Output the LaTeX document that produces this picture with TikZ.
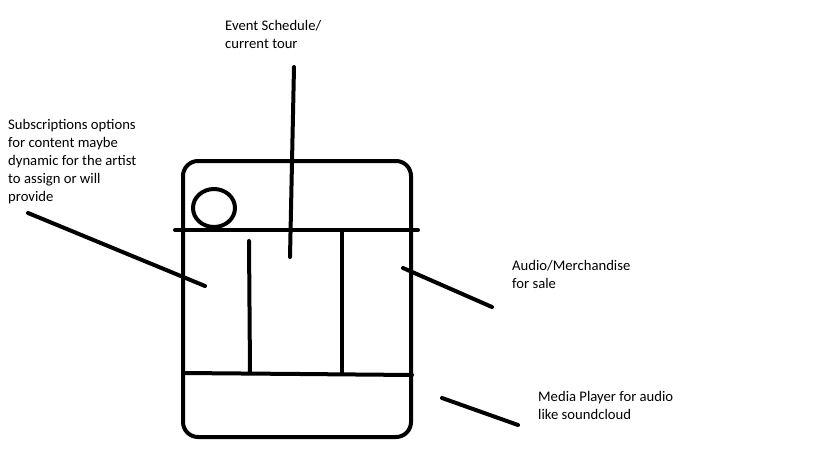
\documentclass[tikz,border=0pt]{standalone}
\usepackage{fontspec}
\setmainfont{Carlito}
\begin{document}
\begin{tikzpicture}[x=1pt,y=-1pt,
  stroke/.style={line width=4pt,line cap=round,black},
  label/.style={anchor=north west,inner sep=0pt,align=left,font=\fontsize{14.67}{18}\selectfont}]
\useasboundingbox (0,0) rectangle (819,460);
% device outline
\draw[stroke,rounded corners=15pt] (183,161) rectangle (411,437);
\draw[stroke] (214,208) ellipse (21 and 19);
% inner dividers
\coordinate (hl) at (175,230); \coordinate (hr) at (418,230);
\draw[stroke] (hl) -- (hr);
\coordinate (v1t) at (249,241); \coordinate (v1b) at (250,373);
\draw[stroke] (v1t) -- (v1b);
\coordinate (v2t) at (342,231); \coordinate (v2b) at (342,373);
\draw[stroke] (v2t) -- (v2b);
\coordinate (bl) at (183,373); \coordinate (bm) at (300,374); \coordinate (br) at (412,375);
\draw[stroke] (bl) -- (bm) -- (br);
% labels
\node[label] (sub) at (8,119) {Subscriptions options\\for content maybe\\dynamic for the artist\\to assign or will\\provide};
\node[label] (evt) at (225,20) {Event Schedule/\\current tour};
\node[label] (aud) at (512,260) {Audio/Merchandise\\for sale};
\node[label] (med) at (538,391) {Media Player for audio\\like soundcloud};
% pointers
\coordinate (p1a) at (28,213); \coordinate (p1b) at (205,286);
\draw[stroke] (p1a) -- (p1b);
\coordinate (p2a) at (294,67); \coordinate (p2b) at (290,257);
\draw[stroke] (p2a) -- (p2b);
\coordinate (p3a) at (403,268); \coordinate (p3b) at (492,307);
\draw[stroke] (p3a) -- (p3b);
\coordinate (p4a) at (442,398); \coordinate (p4b) at (518,425);
\draw[stroke] (p4a) -- (p4b);
\end{tikzpicture}
\end{document}
